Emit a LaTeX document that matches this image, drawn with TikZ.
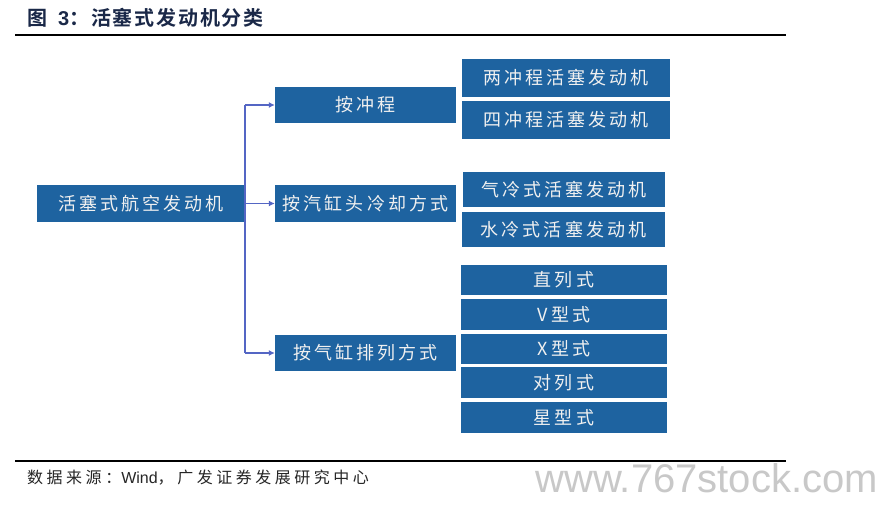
\documentclass[tikz,border=0pt]{standalone}
\usepackage{fontspec}
\usetikzlibrary{arrows.meta}
\newfontfamily\boxfont[LetterSpace=17]{Noto Sans CJK SC}
\newfontfamily\titlefont[LetterSpace=9]{Noto Sans CJK SC Bold}
\newfontfamily\titlenum{Liberation Sans Bold}
\newfontfamily\footfont[LetterSpace=22]{Noto Sans CJK SC}
\newfontfamily\footlatin{Liberation Sans}
\newfontfamily\wmfont{Liberation Sans}
\definecolor{boxblue}{RGB}{30,99,160}
\definecolor{linkblue}{RGB}{84,102,196}
\definecolor{titlenavy}{RGB}{26,40,72}
\definecolor{wmgrey}{RGB}{200,200,200}
\tikzset{
  catbox/.style={fill=boxblue, draw=none, text=white!94!black, inner sep=0pt,
    font=\boxfont\fontsize{18}{21}\selectfont},
  link/.style={draw=linkblue, line width=1.7pt},
  linkarrow/.style={link, -{Latex[length=6pt,width=6pt]}},
  rule/.style={draw=black, line width=1.2pt}
}
\begin{document}
\begin{tikzpicture}[x=1pt,y=-1pt]
\useasboundingbox (0,0) rectangle (880,519);
\fill[white] (0,0) rectangle (880,519);
% title
\node[anchor=west, inner sep=0pt, text=titlenavy] (title) at (27,18)
  {\titlefont\fontsize{20}{23}\selectfont 图\hspace{11pt}{\titlenum 3}：活塞式发动机分类};
\coordinate (tl1) at (15,35);
\coordinate (tl2) at (786,35);
\draw[rule] (tl1) -- (tl2);
% boxes
\node[catbox, minimum width=208pt, minimum height=37pt] (main) at (141,203.5) {活塞式航空发动机};
\node[catbox, minimum width=181pt, minimum height=36pt] (m1) at (365.5,105) {按冲程};
\node[catbox, minimum width=181pt, minimum height=37pt] (m2) at (365.5,203.5) {按汽缸头冷却方式};
\node[catbox, minimum width=181pt, minimum height=36pt] (m3) at (365.5,353) {按气缸排列方式};
\node[catbox, minimum width=208pt, minimum height=38pt] (r1) at (566,78) {两冲程活塞发动机};
\node[catbox, minimum width=208pt, minimum height=38pt] (r2) at (566,120) {四冲程活塞发动机};
\node[catbox, minimum width=202pt, minimum height=35pt] (r3) at (564,189.5) {气冷式活塞发动机};
\node[catbox, minimum width=203pt, minimum height=35pt] (r4) at (563.5,229.5) {水冷式活塞发动机};
\node[catbox, minimum width=206pt, minimum height=30pt] (s1) at (564,280) {直列式};
\node[catbox, minimum width=206pt, minimum height=31pt] (s2) at (564,314.5) {V型式};
\node[catbox, minimum width=206pt, minimum height=30pt] (s3) at (564,349) {X型式};
\node[catbox, minimum width=206pt, minimum height=31pt] (s4) at (564,382.5) {对列式};
\node[catbox, minimum width=206pt, minimum height=31pt] (s5) at (564,417.5) {星型式};
% connectors
\coordinate (jt) at (main.east |- m1.west);
\coordinate (jb) at (main.east |- m3.west);
\draw[link] (jt) -- (jb);
\draw[linkarrow] (jt) -- (m1.west);
\draw[linkarrow] (main.east) -- (m2.west);
\draw[linkarrow] (jb) -- (m3.west);
% footer
\coordinate (bl1) at (15,461);
\coordinate (bl2) at (786,461);
\draw[rule] (bl1) -- (bl2);
\node[anchor=west, inner sep=0pt, text=black!85] (src) at (27,478)
  {\footfont\fontsize{16}{19}\selectfont 数据来源：{\footlatin Wind}，广发证券发展研究中心};
\node[anchor=east, inner sep=0pt, text=wmgrey] (wm) at (878,478)
  {\wmfont\fontsize{40}{45}\selectfont www.767stock.com};
\end{tikzpicture}
\end{document}
